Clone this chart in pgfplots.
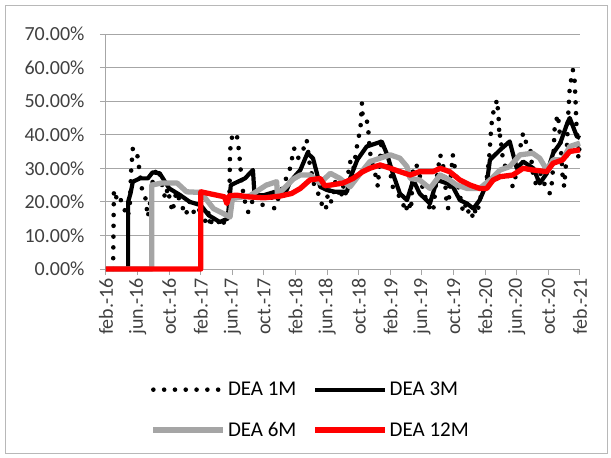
\documentclass[border=0pt]{standalone}
\usepackage{pgfplots}
\pgfplotsset{compat=1.18}
\usepackage{fontspec}
\setmainfont{Carlito}
\definecolor{gridc}{HTML}{A6A6A6}
\definecolor{s6}{HTML}{A5A5A5}
\definecolor{txt}{HTML}{404040}

\begin{document}
\begin{tikzpicture}
\path[use as bounding box] (0,0) rectangle (611pt,-458pt);
\draw[gridc!80, line width=1pt] (5pt,-5pt) rectangle (607pt,-453pt);
\begin{axis}[
  at={(106pt,-269pt)}, anchor=south west,
  scale only axis, width=474pt, height=235pt,
  xmin=0, xmax=60, ymin=0, ymax=70, clip=false,
  axis x line=bottom, axis y line=left,
  axis line style={-, draw=gridc, line width=1pt},
  tick align=outside, major tick length=6pt,
  tick style={draw=gridc, line width=1pt},
  ymajorgrids, grid style={draw=gridc, line width=1pt},
  ytick={0,10,...,70},
  yticklabels={0.00\%,10.00\%,20.00\%,30.00\%,40.00\%,50.00\%,60.00\%,70.00\%},
  yticklabel style={xshift=-12pt},
  xtick={0,4,...,60},
  xticklabels={feb.-16,jun.-16,oct.-16,feb.-17,jun.-17,oct.-17,feb.-18,jun.-18,oct.-18,feb.-19,jun.-19,oct.-19,feb.-20,jun.-20,oct.-20,feb.-21},
  xticklabel style={rotate=90, anchor=east},
  ticklabel style={font=\fontsize{20}{22}\selectfont, text=txt},
  legend columns=2,
  legend style={at={(axis description cs:0.432,-0.600)}, anchor=center,
    draw=none, fill=none, font=\fontsize{21}{24}\selectfont, text=black,
    /tikz/every even column/.append style={column sep=14pt},
    row sep=21pt},
  legend cell align=left,
  legend image code/.code={\draw[#1] (0pt,0pt) -- (70pt,0pt);},
]
% DEA 1M
\addplot[black, line width=4.6pt, line cap=round, dash pattern=on 0pt off 10.8pt] coordinates {
(0.9,0) (1.0,23.5) (1.5,20) (1.8,21) (2.3,18) (2.7,15.5) (3.0,18) (3.2,30) (3.4,36) (3.9,35)
(4.2,30) (4.6,23) (5.0,21) (5.3,15.5) (5.6,20) (6.0,28) (6.6,30) (7.1,25) (7.5,21) (7.8,24)
(8.4,17) (8.9,23) (9.4,20) (10.1,16) (10.6,20) (11.1,17) (11.6,16) (12.0,19) (12.3,15) (12.7,14)
(13.0,17) (13.2,12.5) (13.5,16) (13.7,15) (14.0,13) (14.4,14.5) (14.7,13) (15.2,15) (15.6,17)
(15.7,35) (15.9,39) (16.5,40.5) (16.7,38) (17.0,31) (17.2,25) (17.6,20)
(18.0,17) (18.5,20) (19.0,24) (19.8,19) (20.3,22) (20.8,23) (21.3,18) (21.8,21) (22.3,24) (22.8,27)
(23.3,30) (23.8,36) (24.3,33) (24.8,34.5) (25.4,38.5) (25.8,31) (26.3,25.5) (26.6,23.5) (27.1,21.5) (27.5,17.5)
(27.9,18.5) (28.1,23) (28.3,24) (28.5,20) (28.8,22) (29.0,26) (29.3,24) (29.6,21) (29.8,22) (30.0,25)
(30.3,22) (30.5,26) (30.9,32) (31.3,29.5) (31.9,38.5) (32.2,41.5)
(32.4,49.4) (32.5,45) (33.0,44.5) (33.2,41.5) (33.4,35) (33.8,30.5) (34.3,26.5) (34.4,24.5) (34.9,38.5) (35.1,34.5)
(35.6,30.5) (36.0,28.5) (36.3,24.5) (36.8,22.5) (37.2,21.5) (37.6,19.5) (37.9,17) (38.3,20) (38.6,17.5) (38.9,31)
(39.3,31) (39.7,28) (40.1,24) (40.6,20) (41.0,18) (41.4,17) (41.8,26) (42.3,34) (42.6,32) (42.9,27)
(43.1,20) (43.3,18) (43.6,26) (43.9,34) (44.1,31) (44.4,27) (44.8,22) (45.2,17) (45.5,19) (45.7,16.5) (46.1,18)
(46.5,15) (46.8,18) (47.0,17) (47.3,20) (47.7,25) (48.2,27) (48.5,33) (48.7,40) (48.9,45.6) (49.2,48) (49.5,50.4)
(49.7,45) (49.8,39) (49.9,40) (50.2,33.5) (50.6,30) (51.0,27) (51.5,24.5) (52.0,29) (52.5,37) (52.8,40.5)
(53.2,37.5) (53.7,36) (54.0,29) (54.5,24.5) (54.9,29) (55.4,26) (55.8,23.5) (56.2,22.5) (56.5,26.5) (56.8,42.5)
(57.2,46) (57.5,39) (57.8,27.5) (58.0,24.5) (58.3,33.5) (58.5,45.6) (58.7,54) (59.1,59.3) (59.3,57) (59.4,52)
(59.6,40) (59.8,33) (60,38)
};
\addlegendentry{DEA 1M}
% DEA 3M
\addplot[black, line width=4.2pt, line join=round] coordinates {
(0,0) (2.8,0) (2.8,20) (3.1,22.5) (3.4,26) (4.3,27) (5.3,27) (5.9,28.8) (6.8,28.5) (8.0,24)
(9.4,22) (10.6,20) (12,19) (13,16) (14.4,14) (15.4,15) (15.8,25) (17.6,27) (18.6,29.5) (18.8,22)
(20,22) (21.4,23) (22.6,22) (23.3,26) (24.6,29.5) (25.5,34.5) (26.2,33) (26.7,28.5) (27.1,24.5) (28,23.5)
(29,23) (30.5,23) (30.9,27) (31.8,32.5) (33.0,36.5) (34.3,37.5) (34.9,38) (35.6,34) (36.3,28.5) (37.2,22.5)
(38.1,20.5) (38.9,26.5) (39.7,22.5) (41,19.5) (41.9,26.5) (43.2,25.5) (43.9,24.5) (44.8,20.5) (45.7,19.5) (46.5,18)
(47.3,20.5) (48.2,25.5) (48.6,32.5) (49.9,35.5) (51.1,38) (52,30) (52.8,32) (54.1,30) (54.9,25.5) (55.8,28.5)
(56.6,34.5) (57.5,37.5) (58.4,43.5) (58.7,45) (59.6,39.5) (60,39)
};
\addlegendentry{DEA 3M}
% DEA 6M
\addplot[s6, line width=5.3pt, line join=round] coordinates {
(0,0) (5.8,0) (5.8,25) (7,25.6) (9,25.6) (10.2,23) (12,22.8) (13.6,18) (15.7,15.5) (16,21)
(18.2,21.8) (20.3,25) (21.6,26) (21.7,22) (23.7,26.8) (24.6,28) (25.8,28) (27.1,25.6) (28.4,28.5) (29.6,27)
(30.9,24.5) (32.2,28.5) (33.4,32) (34.7,33) (36,34) (37.2,33) (38.1,30.5) (38.5,27) (39.7,26.5) (41,24)
(42.3,28) (43.5,26.5) (44.4,25) (45.7,24) (47.3,24) (48.6,26.5) (49.9,29.5) (51.1,30.5) (52.4,34) (54,34.5)
(54.9,33) (55.8,29.5) (56.6,32.5) (57.8,32.5) (58.7,36.5) (60,37.5)
};
\addlegendentry{DEA 6M}
% DEA 12M
\addplot[red, line width=5.3pt, line join=round] coordinates {
(0,0) (12,0) (12,23) (13,22.5) (14,22) (15,21.5) (15.3,19.5) (15.6,21.8) (16.5,22) (18,21.5)
(20,21.2) (22,21.7) (23.5,22.5) (24.6,24) (25.8,26.5) (27.1,27) (27.7,24.8) (28.4,25) (30,25.6) (31.3,27)
(32.5,29) (33.4,30) (34.7,31) (36,30) (37.2,29) (38.5,28) (39.7,29) (41.4,29) (42.3,30) (43.5,29)
(44.8,26.5) (46.1,25) (47.3,24) (48.2,24) (49,26.5) (49.9,27.5) (51.5,28) (52.8,30) (54,29.5) (55.8,29)
(56.6,31.5) (57.8,32.5) (58.7,35) (60,35.5)
};
\addlegendentry{DEA 12M}
\end{axis}
\end{tikzpicture}
\end{document}
